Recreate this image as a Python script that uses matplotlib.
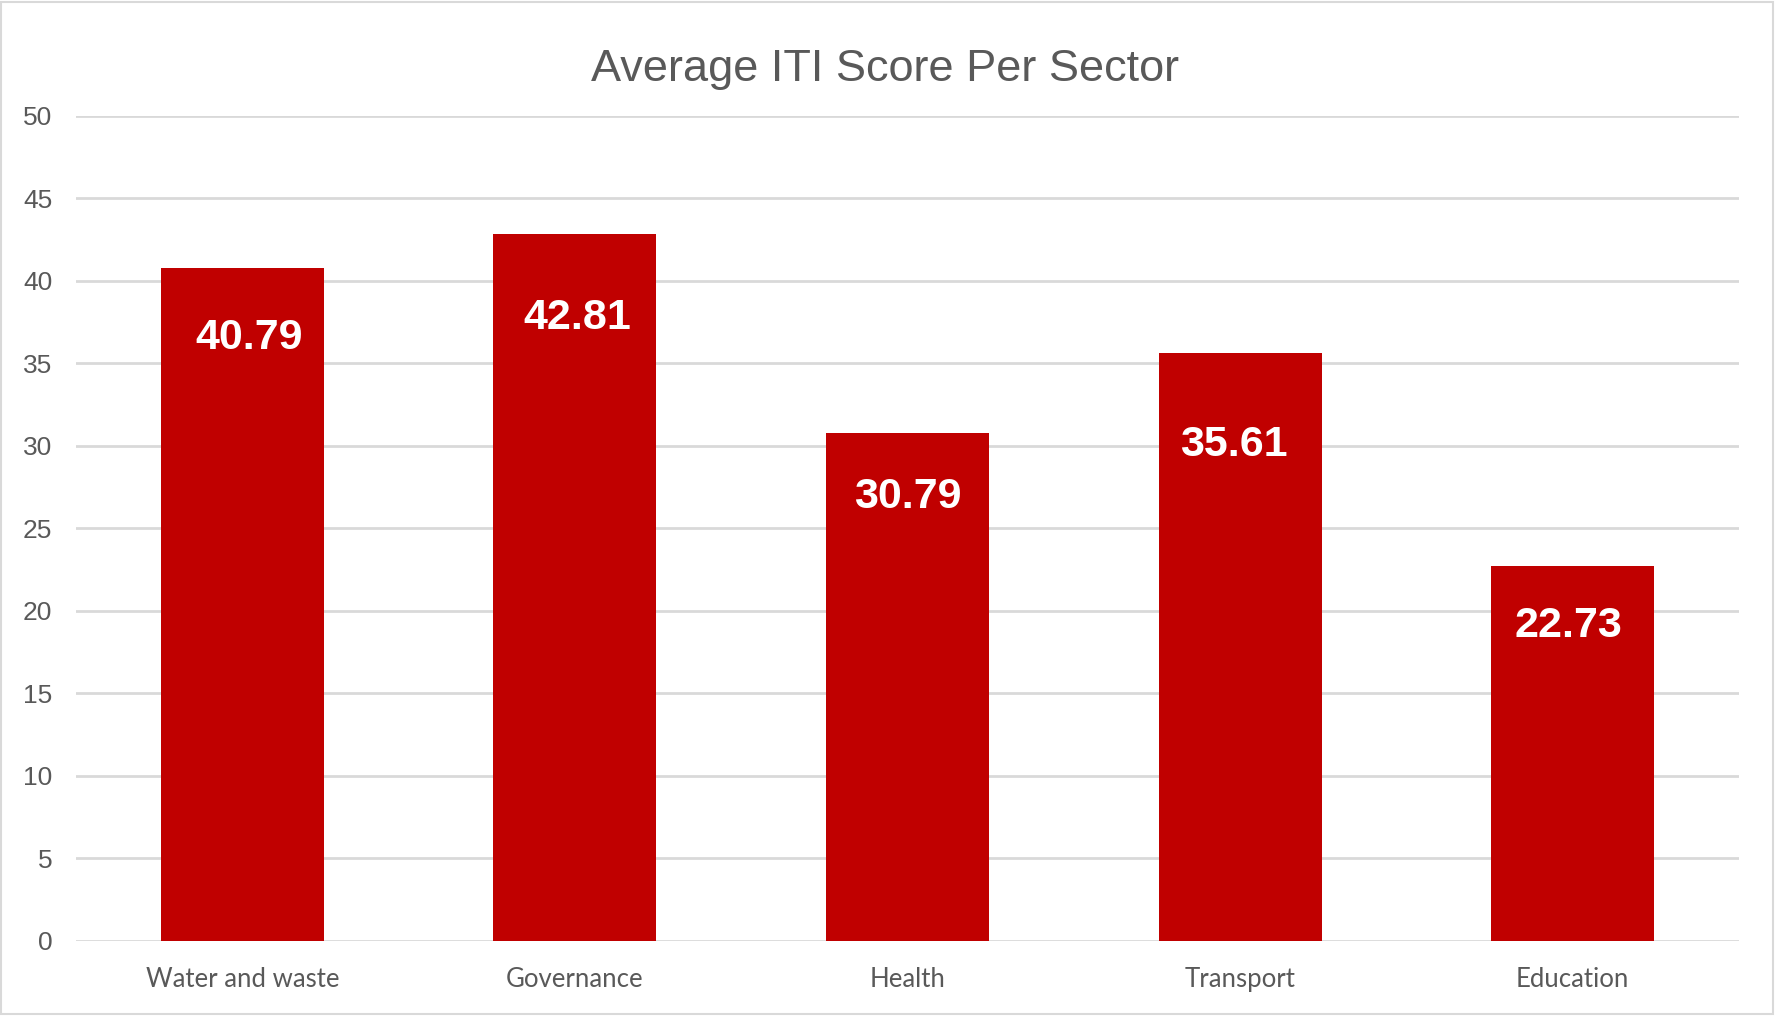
import matplotlib
matplotlib.use("Agg")
import matplotlib.pyplot as plt
from matplotlib.patches import Rectangle

categories = ["Water and waste", "Governance", "Health", "Transport", "Education"]
scores = [40.79, 42.81, 30.79, 35.61, 22.73]
yticks = [0, 5, 10, 15, 20, 25, 30, 35, 40, 45, 50]
title = "Average ITI Score Per Sector"

# label placement relative to bar top / centre (styling only)
label_drop = [4.3, 5.1, 3.9, 5.55, 3.65]
label_shift = [0.02, 0.007, 0.0, -0.02, -0.014]

W, H, DPI = 1775, 1018, 100
fig = plt.figure(figsize=(W / DPI, H / DPI), dpi=DPI)
fig.patch.set_facecolor("white")

left, right = 76 / W, 1739 / W
bottom, top = 1 - 940.7 / H, 1 - 115.5 / H
ax = fig.add_axes([left, bottom, right - left, top - bottom])

x = list(range(len(categories)))
ax.bar(x, scores, width=0.49, color="#C00000", zorder=3)
ax.set_xlim(-0.5, len(categories) - 0.5)
ax.set_ylim(0, 50)
ax.set_yticks(yticks)
ax.set_yticklabels([str(t) for t in yticks], fontsize=19, color="#595959",
                   family="Liberation Sans")
ax.set_xticks(x)
ax.set_xticklabels(categories, fontsize=18.5, color="#595959", family="Lato")
ax.tick_params(axis="y", length=0, pad=17)
ax.tick_params(axis="x", length=0, pad=19)
ax.grid(axis="y", color="#D9D9D9", linewidth=2, zorder=0)
for s in ax.spines.values():
    s.set_visible(False)

for xi, v, d, sh in zip(x, scores, label_drop, label_shift):
    ax.text(xi + sh, v - d, f"{v:.2f}", ha="center", va="center", color="white",
            fontsize=31, fontweight="bold", family="Liberation Sans", zorder=4)

fig.text(885 / W, 1 - 69 / H, title, ha="center", va="center",
         fontsize=32.5, color="#595959", family="Liberation Sans")

fig.patches.append(Rectangle((1 / W, 4 / H), (W - 3) / W, (H - 6) / H,
                             transform=fig.transFigure, fill=False,
                             edgecolor="#D9D9D9", linewidth=1.5))

fig.savefig("out.png", dpi=DPI, facecolor="white")
